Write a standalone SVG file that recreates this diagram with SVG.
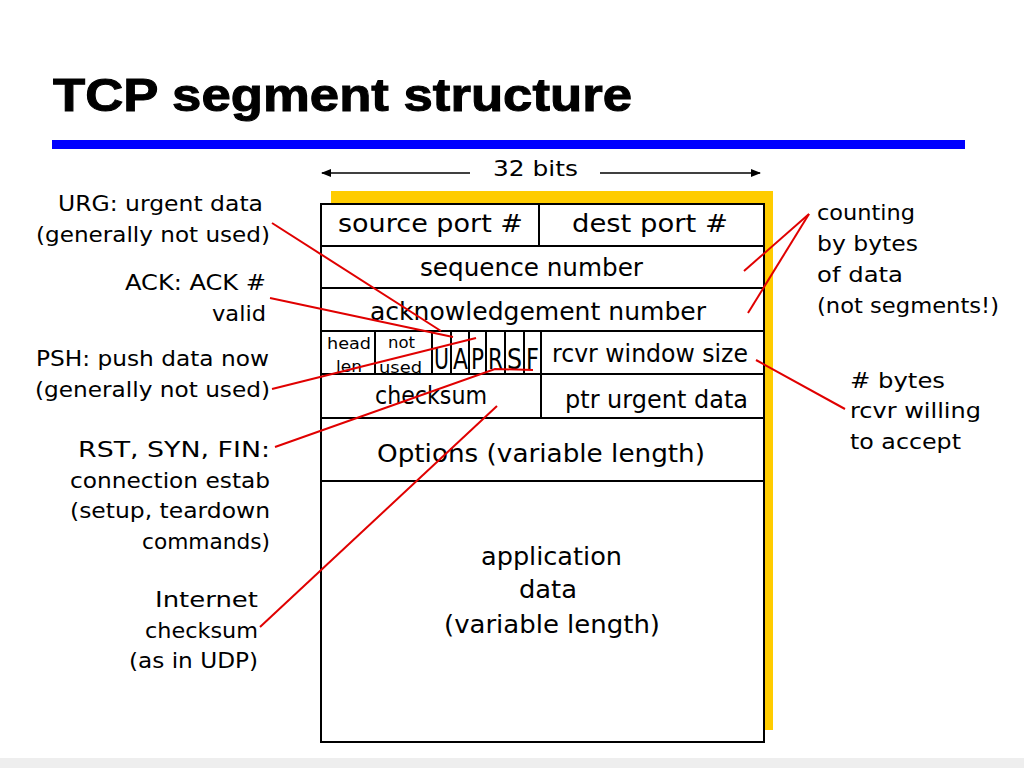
<svg xmlns="http://www.w3.org/2000/svg" width="1024" height="768" viewBox="0 0 1024 768">
<defs>
<style>
.t{font-family:"Comic Sans MS","DejaVu Sans","Noto Sans",sans-serif;fill:#000}
.b{font-size:24px}
.l{font-size:22px}
.f{font-size:28px}
.s{font-size:16px}
.cell{fill:none;stroke:#000;stroke-width:2}
.red{stroke:#e00000;stroke-width:2;fill:none}
.blk{stroke:#000;stroke-width:1.5;fill:none}
</style>
<marker id="ah" markerWidth="10" markerHeight="8" refX="9" refY="4" orient="auto" markerUnits="userSpaceOnUse">
<path d="M0,0 L10,4 L0,8 Z" fill="#000"/>
</marker>
</defs>
<rect x="0" y="0" width="1024" height="768" fill="#fff"/>
<rect x="0" y="758" width="1024" height="10" fill="#eeeeee"/>
<g id="title">
<text x="53" y="111" font-family="'Liberation Sans',Arial,sans-serif" font-weight="bold" font-size="46" textLength="579" lengthAdjust="spacingAndGlyphs" stroke="#000" stroke-width="1">TCP segment structure</text>
<rect x="52" y="140" width="913" height="9" fill="#0000ff"/>
</g>
<g id="width-label">
<line class="blk" x1="470" y1="173" x2="322" y2="173" marker-end="url(#ah)"/>
<line class="blk" x1="600" y1="173" x2="760" y2="173" marker-end="url(#ah)"/>
<text class="t l" x="493" y="176" textLength="85" lengthAdjust="spacingAndGlyphs">32 bits</text>
</g>
<g id="segment">
<rect x="331" y="191" width="442" height="539" fill="#ffcc00"/>
<rect x="321" y="204" width="443" height="538" fill="#fff" stroke="#000" stroke-width="2"/>
</g>
<g id="row-ports">
<line class="cell" x1="321" y1="246" x2="764" y2="246"/>
<line class="cell" x1="539" y1="204" x2="539" y2="246"/>
<text class="t b" x="338" y="232" textLength="185" lengthAdjust="spacingAndGlyphs">source port #</text>
<text class="t b" x="572" y="232" textLength="156" lengthAdjust="spacingAndGlyphs">dest port #</text>
</g>
<g id="row-seq">
<line class="cell" x1="321" y1="288" x2="764" y2="288"/>
<text class="t b" x="420" y="276" textLength="223" lengthAdjust="spacingAndGlyphs">sequence number</text>
</g>
<g id="row-ack">
<line class="cell" x1="321" y1="331" x2="764" y2="331"/>
<text class="t b" x="370" y="320" textLength="336" lengthAdjust="spacingAndGlyphs">acknowledgement number</text>
</g>
<g id="row-flags">
<line class="cell" x1="321" y1="374" x2="764" y2="374"/>
<line class="cell" x1="375" y1="331" x2="375" y2="374"/>
<line class="cell" x1="432" y1="331" x2="432" y2="374"/>
<line class="cell" x1="451" y1="331" x2="451" y2="374"/>
<line class="cell" x1="469" y1="331" x2="469" y2="374"/>
<line class="cell" x1="486" y1="331" x2="486" y2="374"/>
<line class="cell" x1="505" y1="331" x2="505" y2="374"/>
<line class="cell" x1="524" y1="331" x2="524" y2="374"/>
<line class="cell" x1="541" y1="331" x2="541" y2="374"/>
<text class="t s" x="327" y="349" textLength="44" lengthAdjust="spacingAndGlyphs">head</text>
<text class="t s" x="336" y="372" textLength="26" lengthAdjust="spacingAndGlyphs">len</text>
<text class="t s" x="388" y="348" textLength="27" lengthAdjust="spacingAndGlyphs">not</text>
<text class="t s" x="379" y="373" textLength="43" lengthAdjust="spacingAndGlyphs">used</text>
<text class="t f" x="434" y="369" textLength="15" lengthAdjust="spacingAndGlyphs">U</text>
<text class="t f" x="453" y="369" textLength="15" lengthAdjust="spacingAndGlyphs">A</text>
<text class="t f" x="471" y="369" textLength="13" lengthAdjust="spacingAndGlyphs">P</text>
<text class="t f" x="488" y="369" textLength="15" lengthAdjust="spacingAndGlyphs">R</text>
<text class="t f" x="507" y="369" textLength="15" lengthAdjust="spacingAndGlyphs">S</text>
<text class="t f" x="526" y="369" textLength="13" lengthAdjust="spacingAndGlyphs">F</text>
<text class="t b" x="552" y="362" textLength="196" lengthAdjust="spacingAndGlyphs">rcvr window size</text>
</g>
<g id="row-checksum">
<line class="cell" x1="321" y1="418" x2="764" y2="418"/>
<line class="cell" x1="541" y1="374" x2="541" y2="418"/>
<text class="t b" x="375" y="404" textLength="112" lengthAdjust="spacingAndGlyphs">checksum</text>
<text class="t b" x="565" y="408" textLength="183" lengthAdjust="spacingAndGlyphs">ptr urgent data</text>
</g>
<g id="row-options">
<line class="cell" x1="321" y1="481" x2="764" y2="481"/>
<text class="t b" x="377" y="462" textLength="328" lengthAdjust="spacingAndGlyphs">Options (variable length)</text>
</g>
<g id="row-data">
<text class="t b" x="481" y="565" textLength="141" lengthAdjust="spacingAndGlyphs">application</text>
<text class="t b" x="519" y="598" textLength="58" lengthAdjust="spacingAndGlyphs">data</text>
<text class="t b" x="444" y="633" textLength="216" lengthAdjust="spacingAndGlyphs">(variable length)</text>
</g>
<g id="label-urg">
<text class="t l" x="58" y="211" textLength="205" lengthAdjust="spacingAndGlyphs">URG: urgent data</text>
<text class="t l" x="36" y="242" textLength="234" lengthAdjust="spacingAndGlyphs">(generally not used)</text>
</g>
<g id="label-ack">
<text class="t l" x="125" y="290" textLength="141" lengthAdjust="spacingAndGlyphs">ACK: ACK #</text>
<text class="t l" x="212" y="321" textLength="54" lengthAdjust="spacingAndGlyphs">valid</text>
</g>
<g id="label-psh">
<text class="t l" x="36" y="366" textLength="233" lengthAdjust="spacingAndGlyphs">PSH: push data now</text>
<text class="t l" x="35" y="397" textLength="235" lengthAdjust="spacingAndGlyphs">(generally not used)</text>
</g>
<g id="label-rst">
<text class="t l" x="78" y="457" textLength="192" lengthAdjust="spacingAndGlyphs">RST, SYN, FIN:</text>
<text class="t l" x="70" y="488" textLength="200" lengthAdjust="spacingAndGlyphs">connection estab</text>
<text class="t l" x="70" y="518" textLength="200" lengthAdjust="spacingAndGlyphs">(setup, teardown</text>
<text class="t l" x="142" y="549" textLength="128" lengthAdjust="spacingAndGlyphs">commands)</text>
</g>
<g id="label-checksum">
<text class="t l" x="155" y="607" textLength="103" lengthAdjust="spacingAndGlyphs">Internet</text>
<text class="t l" x="145" y="638" textLength="113" lengthAdjust="spacingAndGlyphs">checksum</text>
<text class="t l" x="129" y="668" textLength="129" lengthAdjust="spacingAndGlyphs">(as in UDP)</text>
</g>
<g id="label-counting">
<text class="t l" x="817" y="220" textLength="98" lengthAdjust="spacingAndGlyphs">counting</text>
<text class="t l" x="817" y="251" textLength="101" lengthAdjust="spacingAndGlyphs">by bytes</text>
<text class="t l" x="817" y="282" textLength="86" lengthAdjust="spacingAndGlyphs">of data</text>
<text class="t l" x="817" y="313" textLength="182" lengthAdjust="spacingAndGlyphs">(not segments!)</text>
</g>
<g id="label-window">
<text class="t l" x="850" y="388" textLength="95" lengthAdjust="spacingAndGlyphs"># bytes</text>
<text class="t l" x="850" y="418" textLength="131" lengthAdjust="spacingAndGlyphs">rcvr willing</text>
<text class="t l" x="850" y="449" textLength="111" lengthAdjust="spacingAndGlyphs">to accept</text>
</g>
<g id="connectors">
<line class="red" x1="272" y1="223" x2="441" y2="331"/>
<line class="red" x1="270" y1="298" x2="453" y2="337"/>
<line class="red" x1="272" y1="389" x2="476" y2="338"/>
<polyline class="red" points="275,447 495,369 533,370"/>
<line class="red" x1="260" y1="627" x2="497" y2="406"/>
<line class="red" x1="809" y1="214" x2="744" y2="271"/>
<line class="red" x1="809" y1="214" x2="748" y2="313"/>
<line class="red" x1="756" y1="360" x2="845" y2="409"/>
</g>
</svg>
